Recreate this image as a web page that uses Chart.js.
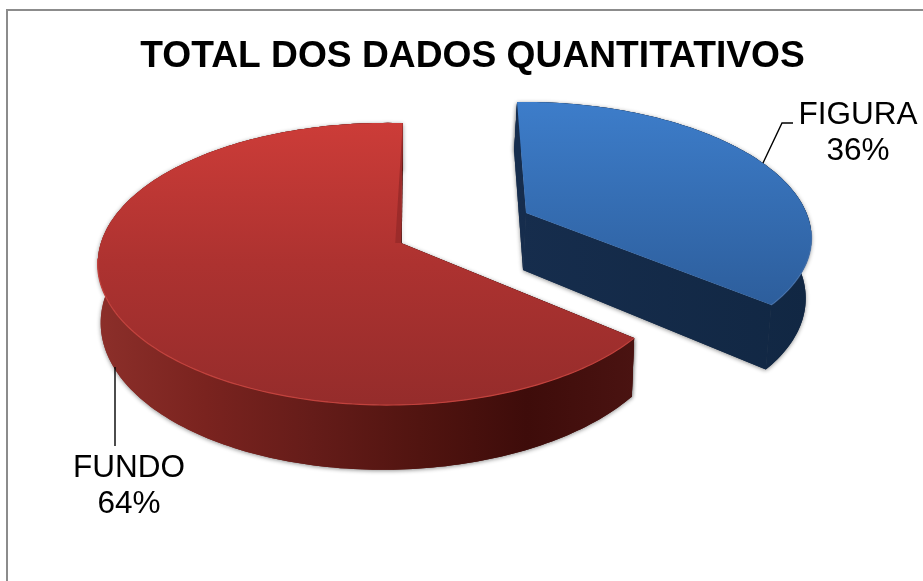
<!DOCTYPE html>
<html>
<head>
<meta charset="utf-8">
<title>TOTAL DOS DADOS QUANTITATIVOS</title>
<script src="https://cdn.jsdelivr.net/npm/chart.js@4/dist/chart.umd.min.js"></script>
<style>
	html, body { margin: 0; padding: 0; background: #fff; overflow: hidden; }
	#frame { position: absolute; left: 6px; top: 9px; width: 960px; height: 620px; border: 2px solid #8c8c8c; }
	canvas { position: absolute; left: 0; top: 0; }
</style>
</head>
<body>
<div id="frame"></div>
<canvas id="pie-chart" width="923" height="581"></canvas>
<script>
var chartTitle = 'TOTAL DOS DADOS QUANTITATIVOS';
var categories = ['FIGURA', 'FUNDO'];
var values = [36, 64];

// how each slice is laid down in perspective, Chart.js only knows a flat pie
var views = [
	{ x: 526, y: 213, a: 272.6, b: 127.6, k: 10.3, m: 0, p: 0.149, q: 0.0282, depth: 57, shrink: 0.99, dx: -3,
		top: [[0, '#3d7dca'], [1, '#2d5e9c']],
		wall: [[0, '#162d4d'], [1, '#112743']], rim: 'rgba(80,125,185,0.6)' },
	{ x: 401, y: 243, a: 286, b: 137.8, k: -2, m: 2, p: 0.149, q: -0.045, depth: 55, shrink: 0.99, dx: 0,
		top: [[0, '#cc3c38'], [0.5, '#ad3230'], [1, '#952c2b']],
		wall: [[0, '#8c2f2a'], [0.2, '#7a231f'], [0.4, '#651c19'], [0.6, '#511410'], [0.8, '#3e0c0a'], [1, '#4a1311']], rim: '#c2423d',
		sliver: '#9c2b2a' }
];

var labelSpots = [
	{ x: 858, y: 115, line: [[793, 123], [782, 123], [763, 163]] },
	{ x: 129, y: 468, line: [[115, 446], [115, 367]] }
];

function project(view, u, v, low) {
	var w = 1 - view.p * v - view.q * u;
	var x = view.x + (view.a * u + view.k * v) / w;
	var y = view.y + (view.b * v + view.m * u) / w;
	if (low) {
		x = view.x + (x - view.x) * view.shrink + view.dx;
		y += view.depth / w;
	}
	return [x, y];
}

function rimPoints(view, arc, low) {
	var pts = [];
	var steps = Math.ceil((arc.endAngle - arc.startAngle) / 0.02);
	for (var i = 0; i <= steps; i++) {
		var t = arc.startAngle + (arc.endAngle - arc.startAngle) * i / steps;
		pts.push(project(view, Math.cos(t), Math.sin(t), low));
	}
	return pts;
}

function tracePath(ctx, pts) {
	ctx.beginPath();
	pts.forEach(function(pt, i) {
		if (i === 0) ctx.moveTo(pt[0], pt[1]);
		else ctx.lineTo(pt[0], pt[1]);
	});
	ctx.closePath();
}

function makeGradient(ctx, x0, y0, x1, y1, stops) {
	var grad = ctx.createLinearGradient(x0, y0, x1, y1);
	stops.forEach(function(s) { grad.addColorStop(s[0], s[1]); });
	return grad;
}

function drawSlice(ctx, view, arc) {
	var upper = rimPoints(view, arc, false);
	var lower = rimPoints(view, arc, true);
	var xs = upper.map(function(p) { return p[0]; });
	var ys = upper.map(function(p) { return p[1]; });
	var minX = Math.min.apply(null, xs), maxX = Math.max.apply(null, xs);
	var minY = Math.min.apply(null, ys), maxY = Math.max.apply(null, ys);
	var apex = project(view, 0, 0, false);
	var apexLow = project(view, 0, 0, true);
	var wallFill = makeGradient(ctx, minX, 0, maxX, 0, view.wall);
	var walls = [
		[apex, upper[0], lower[0], apexLow],
		[apex, upper[upper.length - 1], lower[lower.length - 1], apexLow],
		upper.concat(lower.slice().reverse())
	];

	// walls: a pass with the soft shadow, then a clean one so no seams show
	ctx.save();
	ctx.fillStyle = wallFill;
	ctx.shadowColor = 'rgba(0,0,0,0.45)';
	ctx.shadowBlur = 4;
	ctx.shadowOffsetY = 1;
	walls.forEach(function(pts) { tracePath(ctx, pts); ctx.fill(); });
	ctx.shadowColor = 'transparent';
	walls.forEach(function(pts) { tracePath(ctx, pts); ctx.fill(); });
	ctx.restore();

	// top of the slice
	ctx.fillStyle = makeGradient(ctx, 0, minY, 0, maxY, view.top);
	tracePath(ctx, [apex].concat(upper));
	ctx.fill();

	// darker sliver where the cut edge meets the top
	if (view.sliver) {
		ctx.fillStyle = view.sliver;
		tracePath(ctx, [upper[upper.length - 1], apex, project(view, -0.02, 0, false)]);
		ctx.fill();
	}

	// light edge on the front of the rim
	ctx.strokeStyle = view.rim;
	ctx.lineWidth = 1.2;
	ctx.beginPath();
	var steps = upper.length - 1;
	var pen = false;
	upper.forEach(function(pt, i) {
		var t = arc.startAngle + (arc.endAngle - arc.startAngle) * i / steps;
		if (Math.sin(t) > 0.12) {
			if (pen) ctx.lineTo(pt[0], pt[1]);
			else ctx.moveTo(pt[0], pt[1]);
			pen = true;
		} else {
			pen = false;
		}
	});
	ctx.stroke();
}

var pie3d = {
	id: 'pie3d',
	beforeDatasetsDraw: function(chart) {
		var ctx = chart.ctx;
		var arcs = chart.getDatasetMeta(0).data;
		arcs.forEach(function(arc, i) {
			drawSlice(ctx, views[i], arc);
		});
		return false;
	},
	afterDraw: function(chart) {
		var ctx = chart.ctx;
		ctx.save();
		ctx.fillStyle = '#000';
		ctx.strokeStyle = '#000';
		ctx.lineWidth = 1.4;
		ctx.font = '31.5px "Liberation Sans"';
		ctx.textAlign = 'center';
		ctx.textBaseline = 'middle';
		categories.forEach(function(name, i) {
			var spot = labelSpots[i];
			ctx.beginPath();
			spot.line.forEach(function(pt, j) {
				if (j === 0) ctx.moveTo(pt[0], pt[1]);
				else ctx.lineTo(pt[0], pt[1]);
			});
			ctx.stroke();
			ctx.fillText(name, spot.x, spot.y);
			ctx.fillText(values[i] + '%', spot.x, spot.y + 36);
		});
		ctx.restore();
	}
};

var myPieChart = new Chart(document.getElementById('pie-chart'), {
	type: 'pie',
	plugins: [pie3d],
	data: {
		labels: categories,
		datasets: [{
			data: values,
			backgroundColor: ['#3d7dca', '#cc3c38'],
			borderWidth: 0
		}]
	},
	options: {
		responsive: false,
		animation: false,
		layout: { padding: { left: 22 } },
		plugins: {
			legend: { display: false },
			tooltip: { enabled: false },
			title: {
				display: true,
				text: chartTitle,
				color: '#000',
				font: { family: '"Liberation Sans"', size: 37.2, weight: 'bold' },
				padding: { top: 34, bottom: 10 }
			}
		}
	}
});
</script>
</body>
</html>
